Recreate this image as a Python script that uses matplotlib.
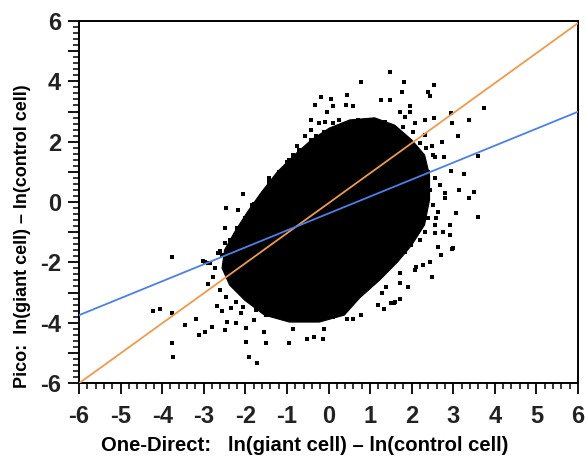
import matplotlib
matplotlib.use("Agg")
import matplotlib.pyplot as plt
from matplotlib.ticker import MultipleLocator

plt.rcParams['axes.unicode_minus'] = False

# Dense core of the scatter cloud (outline)
core_x = [0.02, 0.51, 1.11, 1.59, 2.00, 2.31, 2.43, 2.43, 2.31, 2.00, 1.66, 1.23, 0.75,
          0.38, -0.22, -0.94, -1.54, -2.02, -2.38, -2.56, -2.50, -2.26, -1.95, -1.61,
          -1.23, -0.82, -0.41]
core_y = [2.45, 2.72, 2.79, 2.55, 2.06, 1.56, 0.89, 0.07, -0.76, -1.43, -1.99, -2.59, -3.18,
          -3.75, -3.98, -3.98, -3.75, -3.25, -2.75, -2.19, -1.59, -1.00, -0.33, 0.33,
          1.00, 1.56, 2.06]

# Individual scattered points around the core
pts_x = [-0.18, 0.06, -0.32, 0.10, -0.03, -0.42, -0.24, -0.08, 0.10, 0.26, 0.21, -0.42, -0.56,
         -0.42, -0.30, -0.18, -0.03, -0.75, -0.85, -0.99,
         1.47, 0.79, 1.81, 2.53, 1.76, 2.39, 2.45, 0.45, 1.27, 1.47, 0.43, 0.58, 1.95, 1.71,
         1.97, 1.83, 2.95, 3.75, 3.37, 2.97, 2.53, 2.31, 2.07, 3.11, 2.72, 2.48, 2.77, 2.55,
         3.59, 2.31,
         1.63, 2.95, 3.27, 3.15, 3.51, 3.37, 2.79, 3.07, 3.59, 2.91, 2.75, 2.93, 2.55, 2.99,
         2.71, 2.45, 2.27, 2.11, 2.63, 2.59,
         1.71, 2.48, 2.07, 1.73, 1.91, 1.39, 1.28, 1.71, 1.57, 1.51, 1.19, 1.33, 0.79, 0.58,
         0.45,
         -4.21, -4.06, -3.76, -3.76, -3.46, -3.18, -2.98, -3.12, -2.80, -3.76, -3.73, -2.50,
         -2.45, -2.22, -1.98, -1.92, -1.72, -1.98, -1.78, -1.50, -1.56, -0.95, -0.86, -0.52,
         -0.34, -0.14, -0.10, -0.38, 0.10, -2.90, -2.69, -2.56, -2.34, -2.10, -3.01, -2.90,
         -2.66,
         -1.44, -2.06, -2.46, -2.18, -1.78, -1.88, -2.50, -2.22, -2.50, -2.62, -2.98, -2.84,
         -1.26, -1.10, -0.82, -0.50, -0.90,
         2.97, 1.59,
         0.70, 0.99, 1.15, 1.35, 0.87, 1.59, 1.79, 2.03, 1.87, 2.19, 2.35, 2.51,
         2.39, 2.55, 2.67, 2.43, 2.79, 2.51, 2.63, 2.39, 2.55, 2.31, 2.19, 1.99, 1.83, 1.59,
         1.43, 1.27,
         -2.78, -2.62, -2.46, -2.22, -2.06, -1.74, -1.50, -1.18, -0.94, -0.70, -0.22, 0.26,
         -0.70, -0.94, -1.18, -1.42, -1.61, -1.85, -2.02, -2.21, -2.38, -2.57, -2.72, -0.34,
         -0.10]
pts_y = [3.47, 3.40, 3.22, 3.18, 2.99, 2.72, 2.63, 2.65, 2.63, 2.72, 2.36, 2.39, 2.19,
         2.06, 2.19, 2.19, 2.00, 1.86, 1.56, 1.34,
         4.32, 3.99, 3.99, 3.88, 3.66, 3.66, 3.51, 3.55, 3.38, 3.38, 3.22, 3.19, 3.19, 2.99,
         2.99, 2.83, 2.94, 3.13, 2.72, 2.61, 2.77, 2.72, 2.61, 2.19, 2.00, 1.86, 1.50, 1.50,
         1.52, 2.22,
         1.09, 1.03, 0.92, 0.40, 0.34, 0.12, 0.29, -0.37, -0.49, -0.76, -0.98, -1.09, -1.04,
         -1.53, -1.76, -1.98, -2.09, -2.14, -1.48, -0.54,
         -2.34, -2.50, -2.25, -2.70, -2.81, -2.83, -3.03, -3.23, -3.36, -3.36, -3.41, -3.56,
         -3.75, -3.89, -3.89,
         -3.61, -3.56, -3.69, -1.81, -4.08, -3.89, -4.30, -4.41, -4.15, -4.66, -5.15, -4.24,
         -3.97, -4.02, -4.63, -5.15, -5.35, -4.19, -3.91, -4.66, -4.30, -4.66, -4.22, -4.55,
         -4.47, -4.55, -4.22, -3.80, -3.80, -2.72, -3.45, -3.60, -3.52, -3.67, -1.95, -2.01,
         -1.70,
         0.79, 0.26, -0.21, -0.27, -0.08, -0.37, -0.87, -1.09, -1.37, -1.62, -1.98, -2.03,
         0.43, 0.29, 0.56, 1.12, 1.12,
         -1.57, -3.31,
         2.72, 2.72, 2.55, 2.66, 2.39, 2.39, 2.50, 2.33, 2.11, 1.95, 1.78, 1.56,
         1.00, 0.79, 0.56, 0.40, 0.12, -0.10, -0.32, -0.54, -0.76, -0.98, -1.26, -1.43, -1.65,
         -1.76, -1.92, -2.03,
         -2.48, -2.92, -3.14, -3.31, -3.47, -3.58, -3.75, -3.69, -3.80, -3.69, -3.64, -3.36,
         1.72, 1.39, 0.99, 0.66, 0.23, -0.10, -0.53, -0.86, -1.26, -1.76, -2.19, 2.06,
         2.32]

# Fit lines (slope, intercept)
line_range = [-6, 6]
orange_fit = (0.995, -0.04)
blue_fit = (0.562, -0.38)

xticks = [-6, -5, -4, -3, -2, -1, 0, 1, 2, 3, 4, 5, 6]
yticks = [-6, -5, -4, -3, -2, -1, 0, 1, 2, 3, 4, 5, 6]
ylabels = ['-6', '', '-4', '', '-2', '', '0', '', '2', '', '4', '', '6']

fig = plt.figure(figsize=(5.86, 4.59), dpi=100)
ax = fig.add_axes([79/586, 1-383/459, (578-79)/586, (383-21)/459])

ax.fill(core_x, core_y, color='black', lw=0.8, ec='black', zorder=2)
ax.plot(pts_x, pts_y, 's', color='black', ms=2.8, mew=0, zorder=3)

lx = line_range
ax.plot(lx, [orange_fit[0]*v + orange_fit[1] for v in lx], color='#f09a4c', lw=1.3, zorder=4)
ax.plot(lx, [blue_fit[0]*v + blue_fit[1] for v in lx], color='#4a80e8', lw=1.3, zorder=4)

ax.set_xlim(-6, 6)
ax.set_ylim(-6, 6)
ax.set_xticks(xticks)
ax.set_yticks(yticks)
ax.xaxis.set_minor_locator(MultipleLocator(0.2))
ax.yaxis.set_minor_locator(MultipleLocator(0.2))

tick_font = dict(family=['Liberation Sans', 'DejaVu Sans'], weight='bold', size=17)
ax.set_xticklabels([str(v) for v in xticks], color='#222222', **tick_font)
ax.set_yticklabels(ylabels, color='#222222', **tick_font)

ax.tick_params(which='major', direction='out', length=8, width=1.3,
               top=False, right=False)
ax.tick_params(axis='x', which='major', pad=8)
ax.tick_params(axis='y', which='major', pad=5)
ax.tick_params(which='minor', direction='out', length=4, width=1.1,
               top=False, right=False)
for sp in ax.spines.values():
    sp.set_linewidth(1.4)

ax.set_xlabel('One-Direct:   ln(giant cell) \u2013 ln(control cell)',
              family=['Liberation Sans', 'DejaVu Sans'], weight='bold', size=14.6)
ax.xaxis.set_label_coords((305-79)/499, (383-436)/362)
ax.set_ylabel('Pico:  ln(giant cell) \u2013 ln(control cell)',
              family=['Liberation Sans', 'DejaVu Sans'], weight='bold', size=13)
ax.yaxis.set_label_coords((31-79)/499, (383-236)/362)

fig.savefig('out.png', dpi=100)
